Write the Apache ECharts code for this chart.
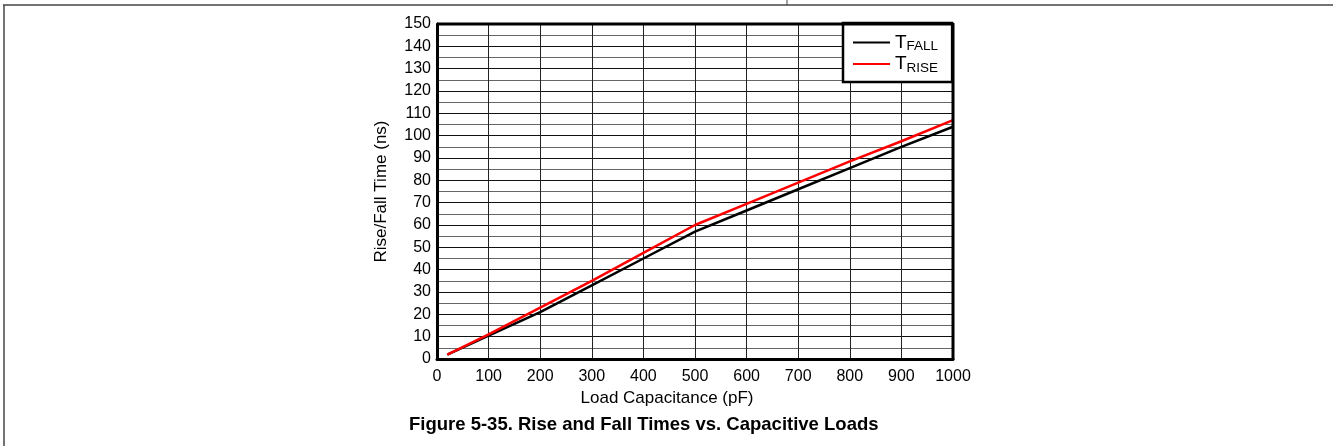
<!DOCTYPE html>
<html>
<head>
<meta charset="utf-8">
<script src="https://cdn.jsdelivr.net/npm/echarts@6/dist/echarts.min.js"></script>
<style>
  html, body { margin: 0; padding: 0; background: #fff; }
  #chart { width: 1333px; height: 446px; }
</style>
</head>
<body>
<div id="chart"></div>
<script>
// load capacitance (pF) and measured times (ns)
const capacitance = [20, 100, 200, 300, 400, 500, 600, 700, 800, 900, 1000];
const tFall = [2, 10.5, 21, 33, 45, 57, 66.5, 76, 85.5, 95, 104];
const tRise = [2, 11, 23, 35, 47.5, 60, 69.5, 79, 88.5, 97.5, 107];

const font = "Liberation Sans, Arial, sans-serif";

const toPairs = (xs, ys) => xs.map((x, i) => [x, ys[i]]);

let chart = echarts.init(document.getElementById("chart"));
chart.setOption({
  animation: false,
  title: {
    text: "Figure 5-35. Rise and Fall Times vs. Capacitive Loads",
    left: 404,
    top: 410,
    textStyle: { fontFamily: font, fontSize: 18.5, fontWeight: "bold", color: "#000" },
  },
  grid: { left: 437, right: 380, top: 24, bottom: 87 },
  xAxis: {
    type: "value",
    min: 0,
    max: 1000,
    interval: 100,
    name: "Load Capacitance (pF)",
    nameLocation: "middle",
    nameGap: 31,
    nameTextStyle: { fontFamily: font, fontSize: 17, color: "#000", padding: [0, 56, 0, 0] },
    axisLine: { show: true, lineStyle: { color: "#000", width: 3 } },
    axisTick: { show: false },
    axisLabel: { fontFamily: font, fontSize: 16, color: "#000", margin: 10, formatter: (v) => String(v) },
    splitLine: { show: true, lineStyle: { color: "#222", width: 1 } },
  },
  yAxis: {
    type: "value",
    min: 0,
    max: 150,
    interval: 10,
    name: "Rise/Fall Time (ns)",
    nameLocation: "middle",
    nameGap: 47,
    nameTextStyle: { fontFamily: font, fontSize: 17, color: "#000" },
    axisLine: { show: true, lineStyle: { color: "#000", width: 3 } },
    axisTick: { show: false },
    axisLabel: { fontFamily: font, fontSize: 16, color: "#000", margin: 6 },
    splitLine: { show: true, lineStyle: { color: "#111", width: 1 } },
    minorTick: { show: false, splitNumber: 2 },
    minorSplitLine: { show: true, lineStyle: { color: "#666", width: 1 } },
  },
  legend: {
    orient: "vertical",
    left: 843,
    top: 23,
    padding: [10, 14, 7, 10],
    itemGap: 1,
    itemWidth: 37,
    itemHeight: 20,
    backgroundColor: "#fff",
    borderColor: "#000",
    borderWidth: 2.5,
    borderRadius: 0,
    icon: "path://M0,9 L37,9 L37,11 L0,11 Z",
    data: ["TFALL", "TRISE"],
    formatter: (name) => "{t|T}{s|" + name.substring(1) + "}",
    textStyle: {
      rich: {
        t: { fontFamily: font, fontSize: 19, color: "#000" },
        s: { fontFamily: font, fontSize: 13.5, color: "#000", padding: [8, 0, 0, 0] },
      },
    },
  },
  graphic: [
    { type: "line", shape: { x1: 3, y1: 5, x2: 1333, y2: 5 }, style: { stroke: "#444", lineWidth: 1.5 } },
    { type: "line", shape: { x1: 4, y1: 5, x2: 4, y2: 446 }, style: { stroke: "#444", lineWidth: 1.5 } },
    { type: "line", shape: { x1: 787, y1: 0, x2: 787, y2: 5 }, style: { stroke: "#444", lineWidth: 1 } },
    // frame top/right of the plot
    { type: "line", shape: { x1: 437, y1: 24, x2: 953, y2: 24 }, style: { stroke: "#000", lineWidth: 3 }, z: 10 },
    { type: "line", shape: { x1: 953, y1: 23, x2: 953, y2: 360 }, style: { stroke: "#000", lineWidth: 3 }, z: 10 },
  ],
  series: [
    {
      name: "TFALL",
      type: "line",
      data: toPairs(capacitance, tFall),
      symbol: "none",
      color: "#000",
      lineStyle: { color: "#000", width: 2.5 },
      z: 3,
    },
    {
      name: "TRISE",
      type: "line",
      data: toPairs(capacitance, tRise),
      symbol: "none",
      color: "#ff0000",
      lineStyle: { color: "#ff0000", width: 2.5 },
      z: 4,
    },
  ],
});
</script>
</body>
</html>
